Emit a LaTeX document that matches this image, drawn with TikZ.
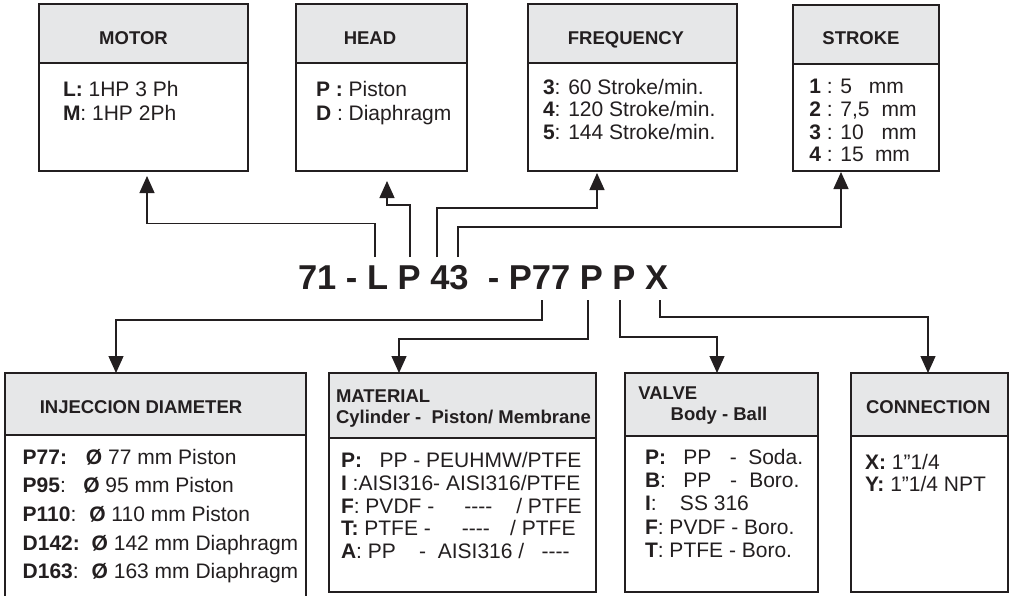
\documentclass[tikz,border=0pt]{standalone}
\usepackage{fontspec}
\setmainfont{Liberation Sans}
\usetikzlibrary{arrows.meta}
\definecolor{ink}{HTML}{231F20}
\definecolor{hdrfill}{HTML}{E6E7E8}
\newcommand\bodyfont{\fontsize{21pt}{24pt}\selectfont}
\newcommand\hdrfont{\fontsize{18.5pt}{20pt}\selectfont\bfseries}
\newcommand\codefont{\fontsize{34.5pt}{36pt}\selectfont\bfseries}
\newcommand\infobox[6]{%
  \node[hdr, minimum width=#4pt, minimum height=#5pt] (#1H) at (#2,#3) {};
  \node[bodybox, minimum width=#4pt, minimum height=#6pt] (#1B) at (#1H.south west) {};
}
\newcommand\dashes{-{}-{}-{}-}
\begin{document}
\begin{tikzpicture}[x=1pt,y=-1pt,
  hdr/.style={draw=ink, fill=hdrfill, line width=1.6pt, anchor=north west, inner sep=0pt, outer sep=0pt},
  bodybox/.style={draw=ink, fill=white, line width=1.6pt, anchor=north west, inner sep=0pt, outer sep=0pt},
  txt/.style={anchor=base west, inner sep=0pt, outer sep=0pt, text=ink, font=\bodyfont},
  htxt/.style={anchor=base, inner sep=0pt, outer sep=0pt, text=ink, font=\hdrfont},
  htxtl/.style={anchor=base west, inner sep=0pt, outer sep=0pt, text=ink, font=\hdrfont},
  arr/.style={draw=ink, line width=1.3pt, -{Triangle[width=15pt,length=17pt]}}]
\useasboundingbox (0,0) rectangle (1011,595);
\fill[white] (0,0) rectangle (1011,595);

% ---------- boxes ----------
\infobox{motor}{39}{4}{209}{59}{108}
\infobox{head}{296}{4}{171}{59}{108}
\infobox{freq}{528}{4}{209}{59}{108}
\infobox{stroke}{793}{5}{146}{59}{107}
\infobox{inj}{5}{373}{301}{62}{175}
\infobox{mat}{329}{373}{267}{65}{154}
\infobox{valve}{625}{373}{193}{63}{156}
\infobox{conn}{851}{373}{157}{63}{156}

% ---------- top headers ----------
\node[htxt] (motorT) at (133.5,44.3) {MOTOR};
\node[htxt] (headT) at (370,44.3) {HEAD};
\node[htxt] (freqT) at (626,44.3) {FREQUENCY};
\node[htxt] (strokeT) at (861,44.3) {STROKE};

% ---------- top bodies ----------
\node[txt] (m1) at (63,96.7) {\textbf{L:} 1HP 3 Ph};
\node[txt] (m2) at (63,120.7) {\textbf{M}: 1HP 2Ph};

\node[txt] (h1) at (316,96.7) {\textbf{P :} Piston};
\node[txt] (h2) at (316,120.7) {\textbf{D} : Diaphragm};

\node[txt] (f1) at (543,94.3) {\textbf{3}: 60 Stroke/min.};
\node[txt] (f2) at (543,116.7) {\textbf{4}: 120 Stroke/min.};
\node[txt] (f3) at (543,139.3) {\textbf{5}: 144 Stroke/min.};

\node[txt] (s1) at (809.3,93.3) {\makebox[59.7pt][l]{\textbf{1} : 5}mm};
\node[txt] (s2) at (809.3,116.3) {\makebox[72.4pt][l]{\textbf{2} : 7,5}mm};
\node[txt] (s3) at (809.3,139.3) {\makebox[72.4pt][l]{\textbf{3} : 10}mm};
\node[txt] (s4) at (809.3,161.7) {\makebox[65.7pt][l]{\textbf{4} : 15}mm};

% ---------- code ----------
\node[anchor=base west, inner sep=0pt, outer sep=0pt, text=ink, font=\codefont] (code) at (298,289.3) {71 - L P 43~~- P77 P P X};

% ---------- bottom headers ----------
\node[htxt] (injT) at (141,413.3) {INJECCION DIAMETER};
\node[htxtl] (matT1) at (336,402.7) {MATERIAL};
\node[htxtl] (matT2) at (336,423.5) {Cylinder -~~Piston/ Membrane};
\node[htxtl] (valT1) at (638.3,399.3) {VALVE};
\node[htxtl] (valT2) at (670.7,420) {Body - Ball};
\node[htxt] (connT) at (928.3,413.3) {CONNECTION};

% ---------- injection body ----------
\node[txt] (i1) at (22.7,464) {\makebox[63.3pt][l]{\textbf{P77:}}\textbf{Ø} 77 mm Piston};
\node[txt] (i2) at (22.7,492.7) {\makebox[60.6pt][l]{\textbf{P95}:}\textbf{Ø} 95 mm Piston};
\node[txt] (i3) at (22.7,521.3) {\makebox[66.6pt][l]{\textbf{P110}:}\textbf{Ø} 110 mm Piston};
\node[txt] (i4) at (22.7,550) {\makebox[69pt][l]{\textbf{D142:}}\textbf{Ø} 142 mm Diaphragm};
\node[txt] (i5) at (22.7,578.6) {\makebox[69pt][l]{\textbf{D163}:}\textbf{Ø} 163 mm Diaphragm};

% ---------- material body ----------
\node[txt] (a1) at (341,467.5) {\textbf{P:}~~~PP - PEUHMW/PTFE};
\node[txt] (a2) at (341,490.5) {\textbf{I} :AISI316- AISI316/PTFE};
\node[txt] (a3) at (341,513) {\textbf{F}: PVDF -\hspace{30pt}\dashes\hspace{24pt}/ PTFE};
\node[txt] (a4) at (341,535.5) {\textbf{T:} PTFE -\hspace{31pt}\dashes\hspace{20.4pt}/ PTFE};
\node[txt] (a5) at (341,558) {\textbf{A}: PP~~~~-~~AISI316 /~~~\dashes};

% ---------- valve body ----------
\node[txt] (v1) at (645,464) {\makebox[38.3pt][l]{\textbf{P:}}\makebox[46.7pt][l]{PP}\makebox[18.3pt][l]{-}Soda.};
\node[txt] (v2) at (645,487.3) {\makebox[38.3pt][l]{\textbf{B}:}\makebox[46.7pt][l]{PP}\makebox[19.3pt][l]{-}Boro.};
\node[txt] (v3) at (645,510.6) {\makebox[35pt][l]{\textbf{I}:}SS 316};
\node[txt] (v4) at (645,534) {\textbf{F}: PVDF - Boro.};
\node[txt] (v5) at (645,557.3) {\textbf{T}: PTFE - Boro.};

% ---------- connection body ----------
\node[txt] (c1) at (865,469.5) {\textbf{X:} 1”1/4};
\node[txt] (c2) at (865,491.5) {\textbf{Y:} 1”1/4 NPT};

% ---------- connector points ----------
\coordinate (srcL) at (375,257);
\coordinate (srcP) at (410,257);
\coordinate (srcF) at (437,257);
\coordinate (srcS) at (458,257);
\coordinate (srcD) at (542,300);
\coordinate (srcM) at (588,300);
\coordinate (srcV) at (620,300);
\coordinate (srcX) at (660,300);

\coordinate (jMot) at (147,223.5);  \coordinate (tMot) at (147,176);
\coordinate (jHead) at (387,205);   \coordinate (tHead) at (387,181);
\coordinate (jFreq) at (597,208);   \coordinate (tFreq) at (597,173);
\coordinate (jStr) at (841,227);    \coordinate (tStr) at (841,172);

\coordinate (jInj) at (116,320);    \coordinate (tInj) at (116,373);
\coordinate (jMat) at (399,339);    \coordinate (tMat) at (399,373);
\coordinate (jVal) at (717,337);    \coordinate (tVal) at (717,373);
\coordinate (jCon) at (928,317);    \coordinate (tCon) at (928,373);

% ---------- connectors ----------
\draw[arr] (srcL) |- (jMot) -- (tMot);
\draw[arr] (srcP) |- (jHead) -- (tHead);
\draw[arr] (srcF) |- (jFreq) -- (tFreq);
\draw[arr] (srcS) |- (jStr) -- (tStr);

\draw[arr] (srcD) |- (jInj) -- (tInj);
\draw[arr] (srcM) |- (jMat) -- (tMat);
\draw[arr] (srcV) |- (jVal) -- (tVal);
\draw[arr] (srcX) |- (jCon) -- (tCon);
\end{tikzpicture}
\end{document}
